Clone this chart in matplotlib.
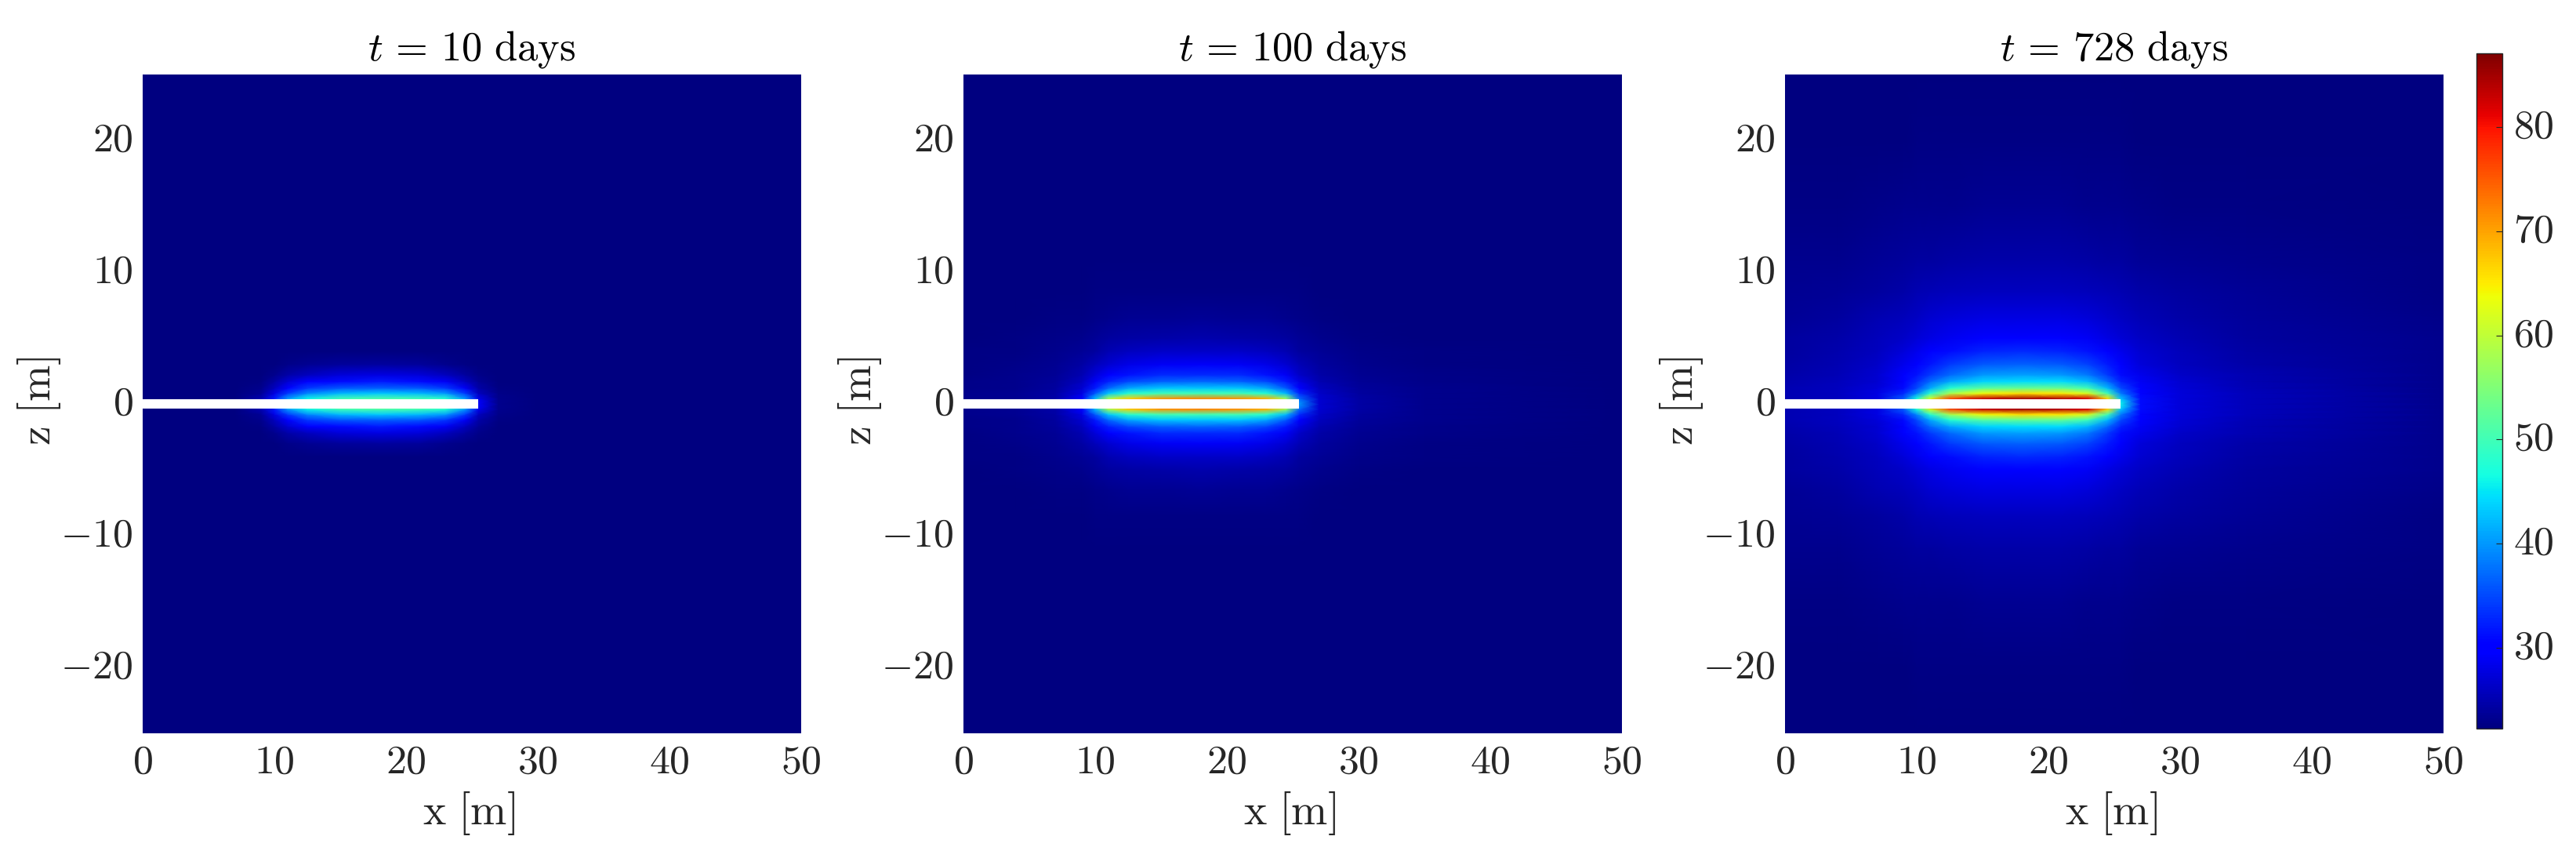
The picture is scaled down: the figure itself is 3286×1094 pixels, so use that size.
import numpy as np
import matplotlib
matplotlib.use("Agg")
import matplotlib.pyplot as plt
from matplotlib.transforms import ScaledTranslation

plt.rcParams["mathtext.fontset"] = "cm"
plt.rcParams["font.family"] = "cmr10"
plt.rcParams["axes.formatter.use_mathtext"] = True

# Sample positions (upper half, the field is mirrored about z=0)
x_nodes = [0, 4, 7, 9, 10, 11, 12.5, 15, 18, 21, 23, 24.5, 25.5, 27, 30, 35, 50]
z_nodes = [0, 0.4, 0.8, 1.2, 1.7, 2.2, 3, 4, 5, 6.5, 8.5, 11, 15, 20, 25]

# Temperature estimated from the colours, one row per z node
temp_10 = [
    [22.2, 22.2, 22.4, 25.5, 34.0, 47.0, 55.0, 58.0, 58.0, 58.0, 56.0, 46.0, 30.0, 23.0, 22.3, 22.2, 22.2],
    [22.2, 22.2, 22.4, 25.0, 32.0, 40.0, 46.0, 50.0, 51.0, 50.0, 48.0, 40.0, 28.5, 23.0, 22.3, 22.2, 22.2],
    [22.2, 22.2, 22.3, 23.5, 28.0, 34.0, 39.0, 42.0, 43.0, 42.0, 40.0, 34.0, 26.0, 22.8, 22.3, 22.2, 22.2],
    [22.2, 22.2, 22.3, 23.0, 26.0, 30.0, 34.0, 36.0, 36.5, 36.0, 34.0, 29.0, 24.5, 22.6, 22.2, 22.2, 22.2],
    [22.2, 22.2, 22.2, 22.6, 24.3, 27.0, 29.5, 31.0, 32.0, 31.0, 29.0, 26.0, 23.5, 22.4, 22.2, 22.2, 22.2],
    [22.2, 22.2, 22.2, 22.3, 23.0, 24.5, 26.0, 27.5, 28.0, 27.5, 26.0, 24.0, 22.9, 22.3, 22.2, 22.2, 22.2],
    [22.1, 22.1, 22.2, 22.2, 22.4, 22.8, 23.3, 23.8, 24.0, 23.8, 23.2, 22.6, 22.3, 22.2, 22.1, 22.1, 22.1],
    [22.1, 22.1, 22.1, 22.1, 22.2, 22.2, 22.3, 22.4, 22.4, 22.4, 22.3, 22.2, 22.2, 22.1, 22.1, 22.1, 22.1],
    [22.1, 22.1, 22.1, 22.1, 22.1, 22.1, 22.1, 22.2, 22.2, 22.2, 22.1, 22.1, 22.1, 22.1, 22.1, 22.1, 22.1],
    [22.1] * 17,
    [22.1] * 17,
    [22.1] * 17,
    [22.1] * 17,
    [22.1] * 17,
    [22.1] * 17,
]

temp_100 = [
    [23.0, 23.3, 24.5, 31.0, 47.0, 66.0, 75.0, 75.0, 75.0, 75.0, 75.0, 66.0, 40.0, 27.0, 24.3, 23.2, 22.3],
    [23.0, 23.3, 24.5, 30.0, 42.0, 58.0, 67.0, 71.0, 72.0, 71.0, 69.0, 57.0, 37.0, 27.0, 24.3, 23.2, 22.3],
    [23.0, 23.3, 24.3, 28.0, 36.0, 43.0, 48.0, 50.0, 50.0, 50.0, 48.0, 42.0, 33.0, 26.3, 24.0, 23.1, 22.3],
    [22.9, 23.2, 24.0, 27.0, 32.0, 37.0, 41.0, 43.0, 43.0, 43.0, 41.0, 36.0, 30.0, 25.8, 23.8, 23.0, 22.3],
    [22.8, 23.1, 23.8, 26.0, 29.0, 32.5, 35.0, 36.5, 37.0, 36.5, 35.0, 32.0, 28.0, 25.0, 23.6, 22.9, 22.3],
    [22.7, 23.0, 23.6, 25.2, 27.3, 29.3, 31.5, 33.0, 33.0, 33.0, 31.5, 29.0, 26.5, 24.6, 23.4, 22.8, 22.3],
    [22.6, 22.9, 23.3, 24.4, 25.5, 26.8, 28.2, 29.0, 29.2, 29.0, 28.2, 26.8, 25.3, 24.0, 23.2, 22.7, 22.2],
    [22.5, 22.7, 23.0, 23.6, 24.2, 25.0, 25.9, 26.3, 26.5, 26.3, 25.9, 25.0, 24.2, 23.5, 22.9, 22.6, 22.2],
    [22.4, 22.5, 22.8, 23.1, 23.5, 24.0, 24.4, 24.7, 24.8, 24.7, 24.4, 24.0, 23.5, 23.0, 22.7, 22.4, 22.2],
    [22.3, 22.4, 22.5, 22.7, 22.9, 23.1, 23.3, 23.4, 23.5, 23.4, 23.3, 23.1, 22.9, 22.7, 22.4, 22.3, 22.1],
    [22.2, 22.2, 22.3, 22.4, 22.5, 22.5, 22.6, 22.6, 22.6, 22.6, 22.6, 22.5, 22.5, 22.4, 22.3, 22.2, 22.1],
    [22.2, 22.2, 22.2, 22.2, 22.2, 22.3, 22.3, 22.3, 22.3, 22.3, 22.3, 22.3, 22.2, 22.2, 22.2, 22.2, 22.1],
    [22.1] * 17,
    [22.1] * 17,
    [22.1] * 17,
]

temp_728 = [
    [25.0, 26.0, 28.0, 38.0, 56.0, 78.0, 87.0, 87.0, 87.0, 87.0, 87.0, 78.0, 46.0, 31.0, 27.5, 25.5, 23.0],
    [25.0, 26.0, 28.0, 36.0, 47.0, 62.0, 76.0, 83.0, 85.0, 84.0, 82.0, 66.0, 43.0, 31.0, 27.5, 25.5, 23.0],
    [25.0, 26.0, 28.0, 33.0, 39.0, 48.0, 58.0, 64.0, 66.0, 65.0, 62.0, 50.0, 38.0, 30.5, 27.3, 25.5, 23.0],
    [25.0, 25.8, 27.5, 31.0, 35.0, 41.0, 48.0, 52.0, 53.0, 53.0, 50.0, 42.0, 35.0, 30.0, 27.2, 25.3, 23.0],
    [24.8, 25.5, 27.0, 30.0, 33.0, 37.0, 41.0, 44.0, 44.5, 44.5, 42.0, 37.0, 32.5, 29.0, 27.0, 25.0, 23.0],
    [24.6, 25.3, 26.8, 29.5, 31.5, 34.0, 37.0, 40.0, 40.5, 40.0, 38.0, 34.0, 31.0, 28.3, 26.5, 25.0, 23.0],
    [24.4, 25.0, 26.5, 28.5, 30.0, 31.8, 34.0, 36.0, 36.5, 36.0, 34.5, 32.0, 29.5, 27.5, 26.0, 24.7, 23.0],
    [24.2, 24.8, 26.0, 27.3, 28.3, 29.5, 31.0, 32.5, 33.0, 32.5, 31.5, 29.8, 28.3, 26.8, 25.5, 24.4, 23.0],
    [24.0, 24.5, 25.5, 26.5, 27.1, 27.8, 28.6, 29.8, 30.2, 29.8, 29.0, 28.0, 27.2, 26.2, 25.2, 24.2, 23.0],
    [23.7, 24.2, 25.0, 25.7, 26.2, 26.8, 27.4, 27.8, 28.0, 27.8, 27.3, 26.7, 26.1, 25.4, 24.7, 23.9, 22.8],
    [23.3, 23.7, 24.2, 24.7, 25.0, 25.3, 25.6, 25.9, 26.0, 25.9, 25.6, 25.3, 25.0, 24.5, 24.0, 23.5, 22.7],
    [23.0, 23.2, 23.5, 23.8, 24.0, 24.2, 24.3, 24.5, 24.5, 24.5, 24.3, 24.2, 24.0, 23.7, 23.4, 23.0, 22.5],
    [22.6, 22.7, 22.9, 23.0, 23.1, 23.2, 23.2, 23.3, 23.3, 23.3, 23.2, 23.1, 23.0, 22.9, 22.7, 22.5, 22.3],
    [22.3, 22.3, 22.4, 22.4, 22.5, 22.5, 22.5, 22.6, 22.6, 22.6, 22.5, 22.5, 22.5, 22.4, 22.4, 22.3, 22.2],
    [22.2] * 17,
]

days = [10, 100, 728]
fields = [temp_10, temp_100, temp_728]
x_ticks = [0, 10, 20, 30, 40, 50]
z_ticks = [-20, -10, 0, 10, 20]
cbar_ticks = [30, 40, 50, 60, 70, 80]
temp_min = 22.2
temp_max = 87.1
fracture_end = 25.5

W, H = 3287, 1094
DPI = 200
TICK_SIZE = 18.7
TITLE_SIZE = 18.9
LABEL_SIZE = 20.0
TICK_COLOR = "#262626"


def px_axes(fig, left, top, right, bottom):
    return fig.add_axes([left / W, 1 - bottom / H, (right - left) / W, (bottom - top) / H])


def lift_labels(labels, fig, px):
    # mathtext labels sit a little low compared to the original
    shift = ScaledTranslation(0, px / DPI, fig.dpi_scale_trans)
    for lab in labels:
        lab.set_transform(lab.get_transform() + shift)


fig = plt.figure(figsize=(W / DPI, H / DPI), dpi=DPI)

# Mirror the upper half to get the whole section
z_half = np.array(z_nodes)
z_full = np.concatenate([-z_half[::-1], z_half[1:]])

lefts = [182, 1229, 2277]
for left, day, field in zip(lefts, days, fields):
    ax = px_axes(fig, left, 95, left + 840, 935)
    t_half = np.array(field)
    t_full = np.vstack([t_half[::-1], t_half[1:]])
    mesh = ax.pcolormesh(x_nodes, z_full, t_full, shading="gouraud", cmap="jet",
                         vmin=temp_min, vmax=temp_max)
    # fracture drawn over the field
    ax.plot([0, fracture_end], [0, 0], color="white", lw=4.3, solid_capstyle="butt")

    ax.set_xlim(0, 50)
    ax.set_ylim(-25, 25)
    ax.set_xticks(x_ticks)
    ax.set_yticks(z_ticks)
    ax.set_xticklabels([f"${v}$" for v in x_ticks])
    ax.set_yticklabels([f"${v}$" for v in z_ticks])
    ax.tick_params(length=0, labelsize=TICK_SIZE, labelcolor=TICK_COLOR, pad=4.5)
    ax.tick_params(axis="x", pad=5.5)
    lift_labels(ax.get_yticklabels(), fig, 4)
    for spine in ax.spines.values():
        spine.set_visible(False)

    ax.set_title(rf"$t\,=\,{day}\ \mathrm{{days}}$", fontsize=TITLE_SIZE, color="black", pad=6.5)
    ax.set_xlabel(r"$\mathrm{x\ [m]}$", fontsize=LABEL_SIZE, color=TICK_COLOR, labelpad=4, x=0.495)
    ax.set_ylabel(r"$\mathrm{z\ [m]}$", fontsize=LABEL_SIZE, color=TICK_COLOR, labelpad=-1, y=0.505)

# Colorbar on the far right
cax = px_axes(fig, 3159, 68, 3192, 929)
cbar = fig.colorbar(mesh, cax=cax)
cbar.set_ticks(cbar_ticks)
cbar.set_ticklabels([f"${v}$" for v in cbar_ticks])
cbar.ax.tick_params(direction="in", length=3, width=0.4, color=TICK_COLOR,
                    labelsize=TICK_SIZE, labelcolor=TICK_COLOR, pad=5)
lift_labels(cbar.ax.get_yticklabels(), fig, 4)
cbar.outline.set_linewidth(0.5)
cbar.outline.set_edgecolor(TICK_COLOR)

fig.savefig("out.png", dpi=DPI)
